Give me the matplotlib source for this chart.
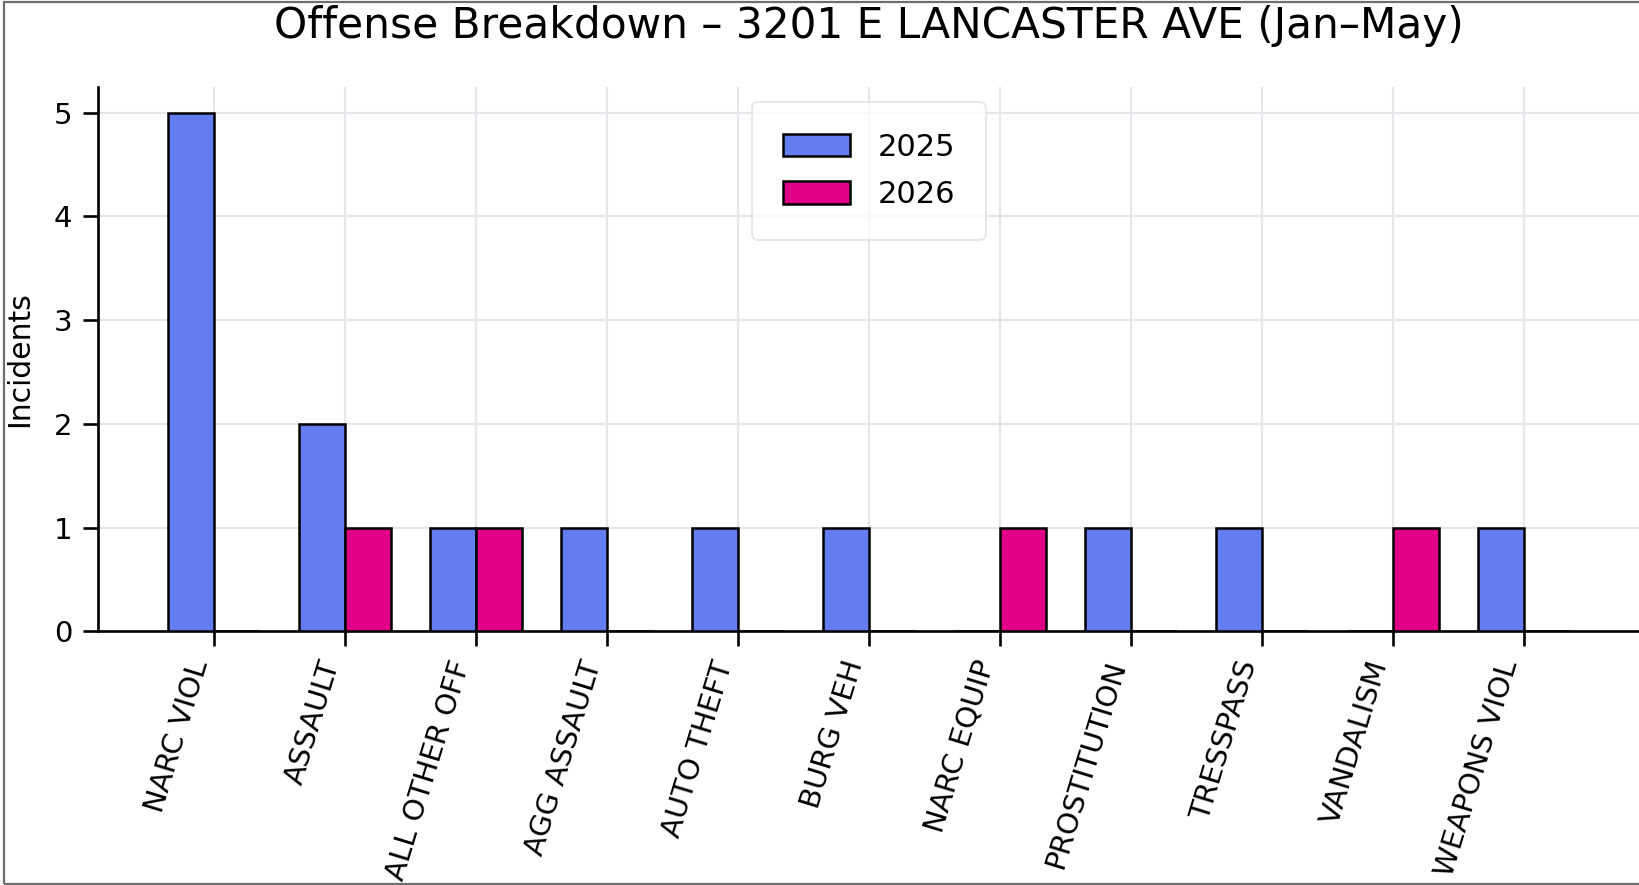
import matplotlib
matplotlib.use("Agg")
import matplotlib.pyplot as plt
from matplotlib.patches import Rectangle
import numpy as np

categories = ["NARC VIOL", "ASSAULT", "ALL OTHER OFF", "AGG ASSAULT", "AUTO THEFT",
              "BURG VEH", "NARC EQUIP", "PROSTITUTION", "TRESSPASS", "VANDALISM",
              "WEAPONS VIOL"]
counts_2025 = [5, 2, 1, 1, 1, 1, 0, 1, 1, 0, 1]
counts_2026 = [0, 1, 1, 0, 0, 0, 1, 0, 0, 1, 0]
series_labels = ["2025", "2026"]
yticks = [0, 1, 2, 3, 4, 5]

W, H, DPI = 1639, 885, 100
fig = plt.figure(figsize=(W / DPI, H / DPI), dpi=DPI)
fig.patch.set_facecolor("white")

ax = fig.add_axes([98 / W, 1 - 631.4 / H, 1.0 - 98 / W + 0.0005, (631.4 - 86.8) / H])

x = np.arange(len(categories))
w = 0.35
c25 = "#637DEF"
c26 = "#E00088"
ax.bar(x - w / 2, counts_2025, width=w, color=c25, edgecolor="black", linewidth=1.8,
       label=series_labels[0], zorder=3)
ax.bar(x + w / 2, counts_2026, width=w, color=c26, edgecolor="black", linewidth=1.8,
       label=series_labels[1], zorder=3)

ax.set_axisbelow(True)
ax.grid(True, color="#E6E6EC", linewidth=1.5, zorder=0)
ax.set_xticks(x)
ax.set_xticklabels(categories, rotation=73, ha="right", fontsize=21)
ax.set_yticks(yticks)
ax.tick_params(axis="both", labelsize=21, length=10.5, width=1.9, pad=8, color="black")
for s in ["top", "right"]:
    ax.spines[s].set_visible(False)
for s in ["left", "bottom"]:
    ax.spines[s].set_linewidth(1.9)
    ax.spines[s].set_color("black")

ax.set_ylabel("Incidents", fontsize=21.5, labelpad=14)
ax.set_title("Offense Breakdown \u2013 3201 E LANCASTER AVE (Jan\u2013May)", fontsize=30.4, pad=35)

leg = ax.legend(loc="upper center", fontsize=22, borderpad=1.0, handlelength=2.2,
                handleheight=0.75, handletextpad=0.9, labelspacing=0.6,
                frameon=True, fancybox=True, framealpha=0.8, edgecolor="#E3E3E8")
leg.get_frame().set_linewidth(1.5)

# outer border (screenshot frame), right side falls outside the canvas
fig.patches.append(Rectangle((3.5 / W, 1.5 / H), 1.2, 1 - 3.0 / H, transform=fig.transFigure,
                             fill=False, edgecolor="#6E6E6E", linewidth=1.6, zorder=10))

fig.savefig("out.png", dpi=DPI)
